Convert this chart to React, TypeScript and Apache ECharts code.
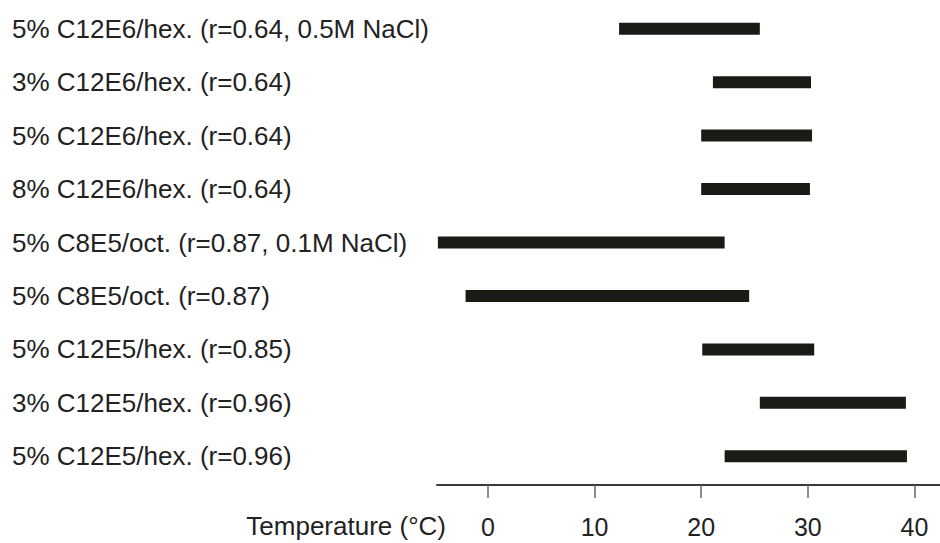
import React, { useEffect, useRef } from "react";
import * as echarts from "echarts";

const categories = [
  "5% C12E6/hex. (r=0.64, 0.5M NaCl)",
  "3% C12E6/hex. (r=0.64)",
  "5% C12E6/hex. (r=0.64)",
  "8% C12E6/hex. (r=0.64)",
  "5% C8E5/oct. (r=0.87, 0.1M NaCl)",
  "5% C8E5/oct. (r=0.87)",
  "5% C12E5/hex. (r=0.85)",
  "3% C12E5/hex. (r=0.96)",
  "5% C12E5/hex. (r=0.96)",
];
const rangeStart = [12.3, 21.1, 20.0, 20.0, -4.7, -2.1, 20.1, 25.5, 22.2];
const rangeEnd = [25.5, 30.3, 30.4, 30.2, 22.2, 24.5, 30.6, 39.2, 39.3];
const tickValues = [0, 10, 20, 30, 40];
const axisTitle = "Temperature (°C)";

export default function App() {
  const ref = useRef<HTMLDivElement>(null);
  useEffect(() => {
    if (!ref.current) return;
    const chart = echarts.init(ref.current, null, { renderer: "svg" });
    const font = "Liberation Sans, Arial, Helvetica, sans-serif";
    const data = categories.map((c, i) => [rangeStart[i], rangeEnd[i], i]);
    chart.setOption({
      animation: false,
      backgroundColor: "#ffffff",
      grid: { left: 437, right: 0, top: 2, height: 481 },
      xAxis: {
        type: "value",
        min: -4.78,
        max: 42.4,
        offset: 2,
        splitLine: { show: false },
        axisLine: { show: true, lineStyle: { color: "#3a3a3a", width: 2 } },
        axisTick: {
          show: true,
          length: 13,
          customValues: tickValues,
          lineStyle: { color: "#666666", width: 1.5 },
        },
        axisLabel: {
          customValues: tickValues,
          margin: 29,
          color: "#222222",
          fontSize: 25,
          fontFamily: font,
        },
      },
      yAxis: {
        type: "category",
        data: categories,
        inverse: true,
        axisLine: { show: false },
        axisTick: { show: false },
        splitLine: { show: false },
        axisLabel: {
          align: "left",
          margin: 425,
          color: "#222222",
          fontSize: 26,
          fontFamily: font,
        },
      },
      graphic: [
        {
          type: "text",
          right: 940 - 446,
          top: 513,
          style: {
            text: axisTitle,
            fill: "#222222",
            fontSize: 26,
            fontFamily: font,
          },
        },
      ],
      series: [
        {
          type: "custom",
          encode: { x: [0, 1], y: 2 },
          data,
          renderItem: (params: any, api: any) => {
            const s = api.coord([api.value(0), api.value(2)]);
            const e = api.coord([api.value(1), api.value(2)]);
            const h = 12;
            return {
              type: "rect",
              shape: { x: s[0], y: s[1] - h / 2, width: e[0] - s[0], height: h },
              style: { fill: "#1c1a14" },
            };
          },
        },
      ],
    });
    return () => chart.dispose();
  }, []);
  return (
    <div
      ref={ref}
      style={{ position: "fixed", left: 0, top: 0, width: 940, height: 543 }}
    />
  );
}
